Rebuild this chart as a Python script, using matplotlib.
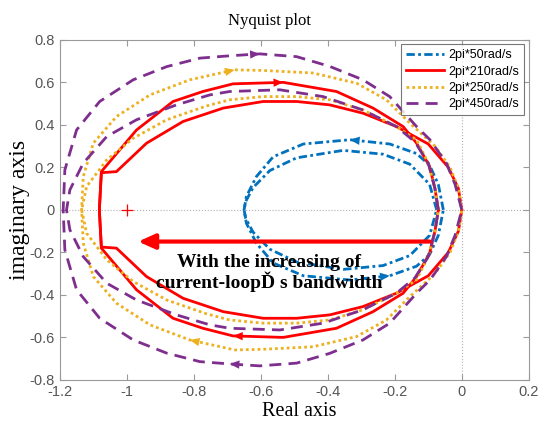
import matplotlib
matplotlib.use("Agg")
import matplotlib.pyplot as plt
import numpy as np

# Upper halves of each Nyquist locus (right end -> left end); the lower
# halves are the complex conjugates (negative frequencies).
blue_outer = [(-0.055, 0.0), (-0.07, 0.12), (-0.096, 0.21), (-0.135, 0.265), (-0.215, 0.31),
              (-0.334, 0.33), (-0.473, 0.31), (-0.563, 0.25), (-0.613, 0.157), (-0.643, 0.063),
              (-0.65, 0.0)]
blue_inner = [(-0.075, 0.0), (-0.096, 0.12), (-0.155, 0.215), (-0.235, 0.262), (-0.354, 0.28),
              (-0.493, 0.245), (-0.573, 0.185), (-0.623, 0.105), (-0.645, 0.04), (-0.65, 0.0)]

red_outer = [(-0.07, 0.0), (-0.08, 0.1), (-0.096, 0.204), (-0.135, 0.314), (-0.175, 0.392),
             (-0.265, 0.479), (-0.374, 0.557), (-0.533, 0.6), (-0.683, 0.593), (-0.773, 0.557),
             (-0.862, 0.51), (-0.971, 0.376), (-1.076, 0.18), (-1.082, 0.0)]
red_inner = [(0.0, 0.0), (-0.01, 0.1), (-0.04, 0.2), (-0.1, 0.31), (-0.195, 0.392),
             (-0.295, 0.455), (-0.394, 0.494), (-0.493, 0.51), (-0.593, 0.51), (-0.712, 0.479),
             (-0.832, 0.416), (-0.941, 0.314), (-1.031, 0.18), (-1.076, 0.175), (-1.082, 0.0)]

yellow_outer = [(0.0, 0.0), (-0.01, 0.1), (-0.035, 0.2), (-0.08, 0.3), (-0.155, 0.408),
                (-0.225, 0.518), (-0.314, 0.596), (-0.444, 0.644), (-0.593, 0.656),
                (-0.678, 0.659), (-0.812, 0.612), (-0.931, 0.541), (-1.031, 0.439),
                (-1.1, 0.314), (-1.13, 0.157), (-1.135, 0.0)]
yellow_inner = [(-0.07, 0.0), (-0.08, 0.1), (-0.1, 0.22), (-0.135, 0.329), (-0.195, 0.392),
                (-0.295, 0.47), (-0.394, 0.518), (-0.493, 0.533), (-0.594, 0.533),
                (-0.693, 0.518), (-0.762, 0.489), (-0.881, 0.424), (-0.981, 0.337),
                (-1.06, 0.235), (-1.12, 0.11), (-1.135, 0.0)]

purple_outer = [(0.0, 0.0), (-0.02, 0.12), (-0.046, 0.22), (-0.095, 0.33), (-0.135, 0.392),
                (-0.215, 0.533), (-0.295, 0.612), (-0.394, 0.675), (-0.493, 0.721),
                (-0.603, 0.734), (-0.693, 0.725), (-0.782, 0.714), (-0.881, 0.674),
                (-0.981, 0.612), (-1.081, 0.51), (-1.15, 0.376), (-1.185, 0.188), (-1.19, 0.0)]
purple_inner = [(-0.07, 0.0), (-0.08, 0.1), (-0.1, 0.22), (-0.14, 0.32), (-0.195, 0.392),
                (-0.295, 0.47), (-0.414, 0.533), (-0.543, 0.565), (-0.693, 0.557),
                (-0.752, 0.541), (-0.852, 0.494), (-0.971, 0.424), (-1.06, 0.345),
                (-1.13, 0.22), (-1.17, 0.094), (-1.18, 0.0)]

labels = ["2pi*50rad/s", "2pi*210rad/s", "2pi*250rad/s", "2pi*450rad/s"]
colors = ["#0072BD", "#FF0000", "#EDB120", "#7E2F8E"]
loci = [(blue_outer, blue_inner), (red_outer, red_inner),
        (yellow_outer, yellow_inner), (purple_outer, purple_inner)]
# index of the point on the outer upper branch that carries the direction arrow
arrow_idx = [5, 7, 9, 9]

critical_point = (-1.0, 0.0)
xticks = np.arange(-1.2, 0.21, 0.2)
yticks = np.arange(-0.8, 0.81, 0.2)


def closed_loop(upper):
    up = np.array(upper)
    low = up[::-1].copy()
    low[:, 1] *= -1
    pts = np.vstack([up, low[1:]])
    return pts[:, 0], pts[:, 1]


styles = [
    dict(linestyle=(0, (3.0, 1.2, 1.0, 1.2)), linewidth=2.0),
    dict(linestyle="-", linewidth=2.0),
    dict(linestyle=(0, (1.0, 1.1)), linewidth=2.0),
    dict(linestyle=(0, (4.3, 2.6)), linewidth=2.0),
]

fig = plt.figure(figsize=(5.39, 4.24), dpi=100)
ax = fig.add_axes([0.111, 0.104, 0.870, 0.802])

# reference lines through the origin
ax.axhline(0, color="#b0b0b0", linestyle=":", linewidth=0.8, zorder=0)
ax.axvline(0, color="#b0b0b0", linestyle=":", linewidth=0.8, zorder=0)

for (outer, inner), col, st, lab, k in zip(loci, colors, styles, labels, arrow_idx):
    xo, yo = closed_loop(outer)
    xi, yi = closed_loop(inner)
    ax.plot(xo, yo, color=col, label=lab, **st)
    ax.plot(xi, yi, color=col, **st)
    # direction arrows on the upper and lower outer branch
    up = np.array(outer)
    if col == colors[0]:
        a, b = up[k - 1], up[k]          # traversed right -> left on top
    else:
        a, b = up[k + 1], up[k]          # traversed left -> right on top
    for sgn in (1, -1):
        s, e = (a, b) if sgn == 1 else (b, a)
        ax.annotate("", xy=(e[0], sgn * e[1]), xytext=(s[0], sgn * s[1]),
                    arrowprops=dict(arrowstyle="-|>,head_length=0.7,head_width=0.3",
                                    color=col, lw=0, shrinkA=0, shrinkB=0))

ax.plot(*critical_point, marker="+", color="#FF0000", markersize=8, markeredgewidth=0.9)

# annotation arrow and text
ax.annotate("", xy=(-0.966, -0.149), xytext=(-0.096, -0.149),
            arrowprops=dict(arrowstyle="-|>,head_length=1.0,head_width=0.45",
                            color="#FF0000", lw=3, shrinkA=0, shrinkB=0))
ax.text(-0.575, -0.297, "With the increasing of\ncurrent-loopĎ s bandwidth",
        family=["Liberation Serif", "DejaVu Serif"], fontweight="bold", fontsize=14,
        ha="center", va="center", linespacing=1.0)

ax.set_xlim(-1.2, 0.2)
ax.set_ylim(-0.8, 0.8)
ax.set_xticks(xticks)
ax.set_yticks(yticks)
ax.set_xticklabels(["-1.2", "-1", "-0.8", "-0.6", "-0.4", "-0.2", "0", "0.2"])
ax.set_yticklabels(["-0.8", "-0.6", "-0.4", "-0.2", "0", "0.2", "0.4", "0.6", "0.8"])
ax.tick_params(direction="in", top=True, right=True, length=4, colors="#9a9a9a",
               labelcolor="#555555", labelsize=10.5, width=0.8)
for lbl in ax.get_xticklabels() + ax.get_yticklabels():
    lbl.set_family("Liberation Sans")
for sp in ax.spines.values():
    sp.set_color("#9a9a9a")
    sp.set_linewidth(0.8)

serif = ["Liberation Serif", "DejaVu Serif"]
ax.set_title("Nyquist plot", family=serif, fontsize=12, x=0.448, pad=11)
ax.set_xlabel("Real axis", family=serif, fontsize=14.5)
ax.xaxis.set_label_coords(0.51, -0.065)
ax.set_ylabel("imaginary axis", family=serif, fontsize=17)
ax.yaxis.set_label_coords(-0.063, 0.5)

leg = ax.legend(loc="upper right", handlelength=3.0, frameon=True,
                fancybox=False, borderaxespad=0.35, labelspacing=0.35, handletextpad=0.4,
                prop={"family": "Liberation Sans", "size": 9})
leg.get_frame().set_edgecolor("#555555")
leg.get_frame().set_linewidth(0.8)

fig.savefig("out.png", dpi=100)
